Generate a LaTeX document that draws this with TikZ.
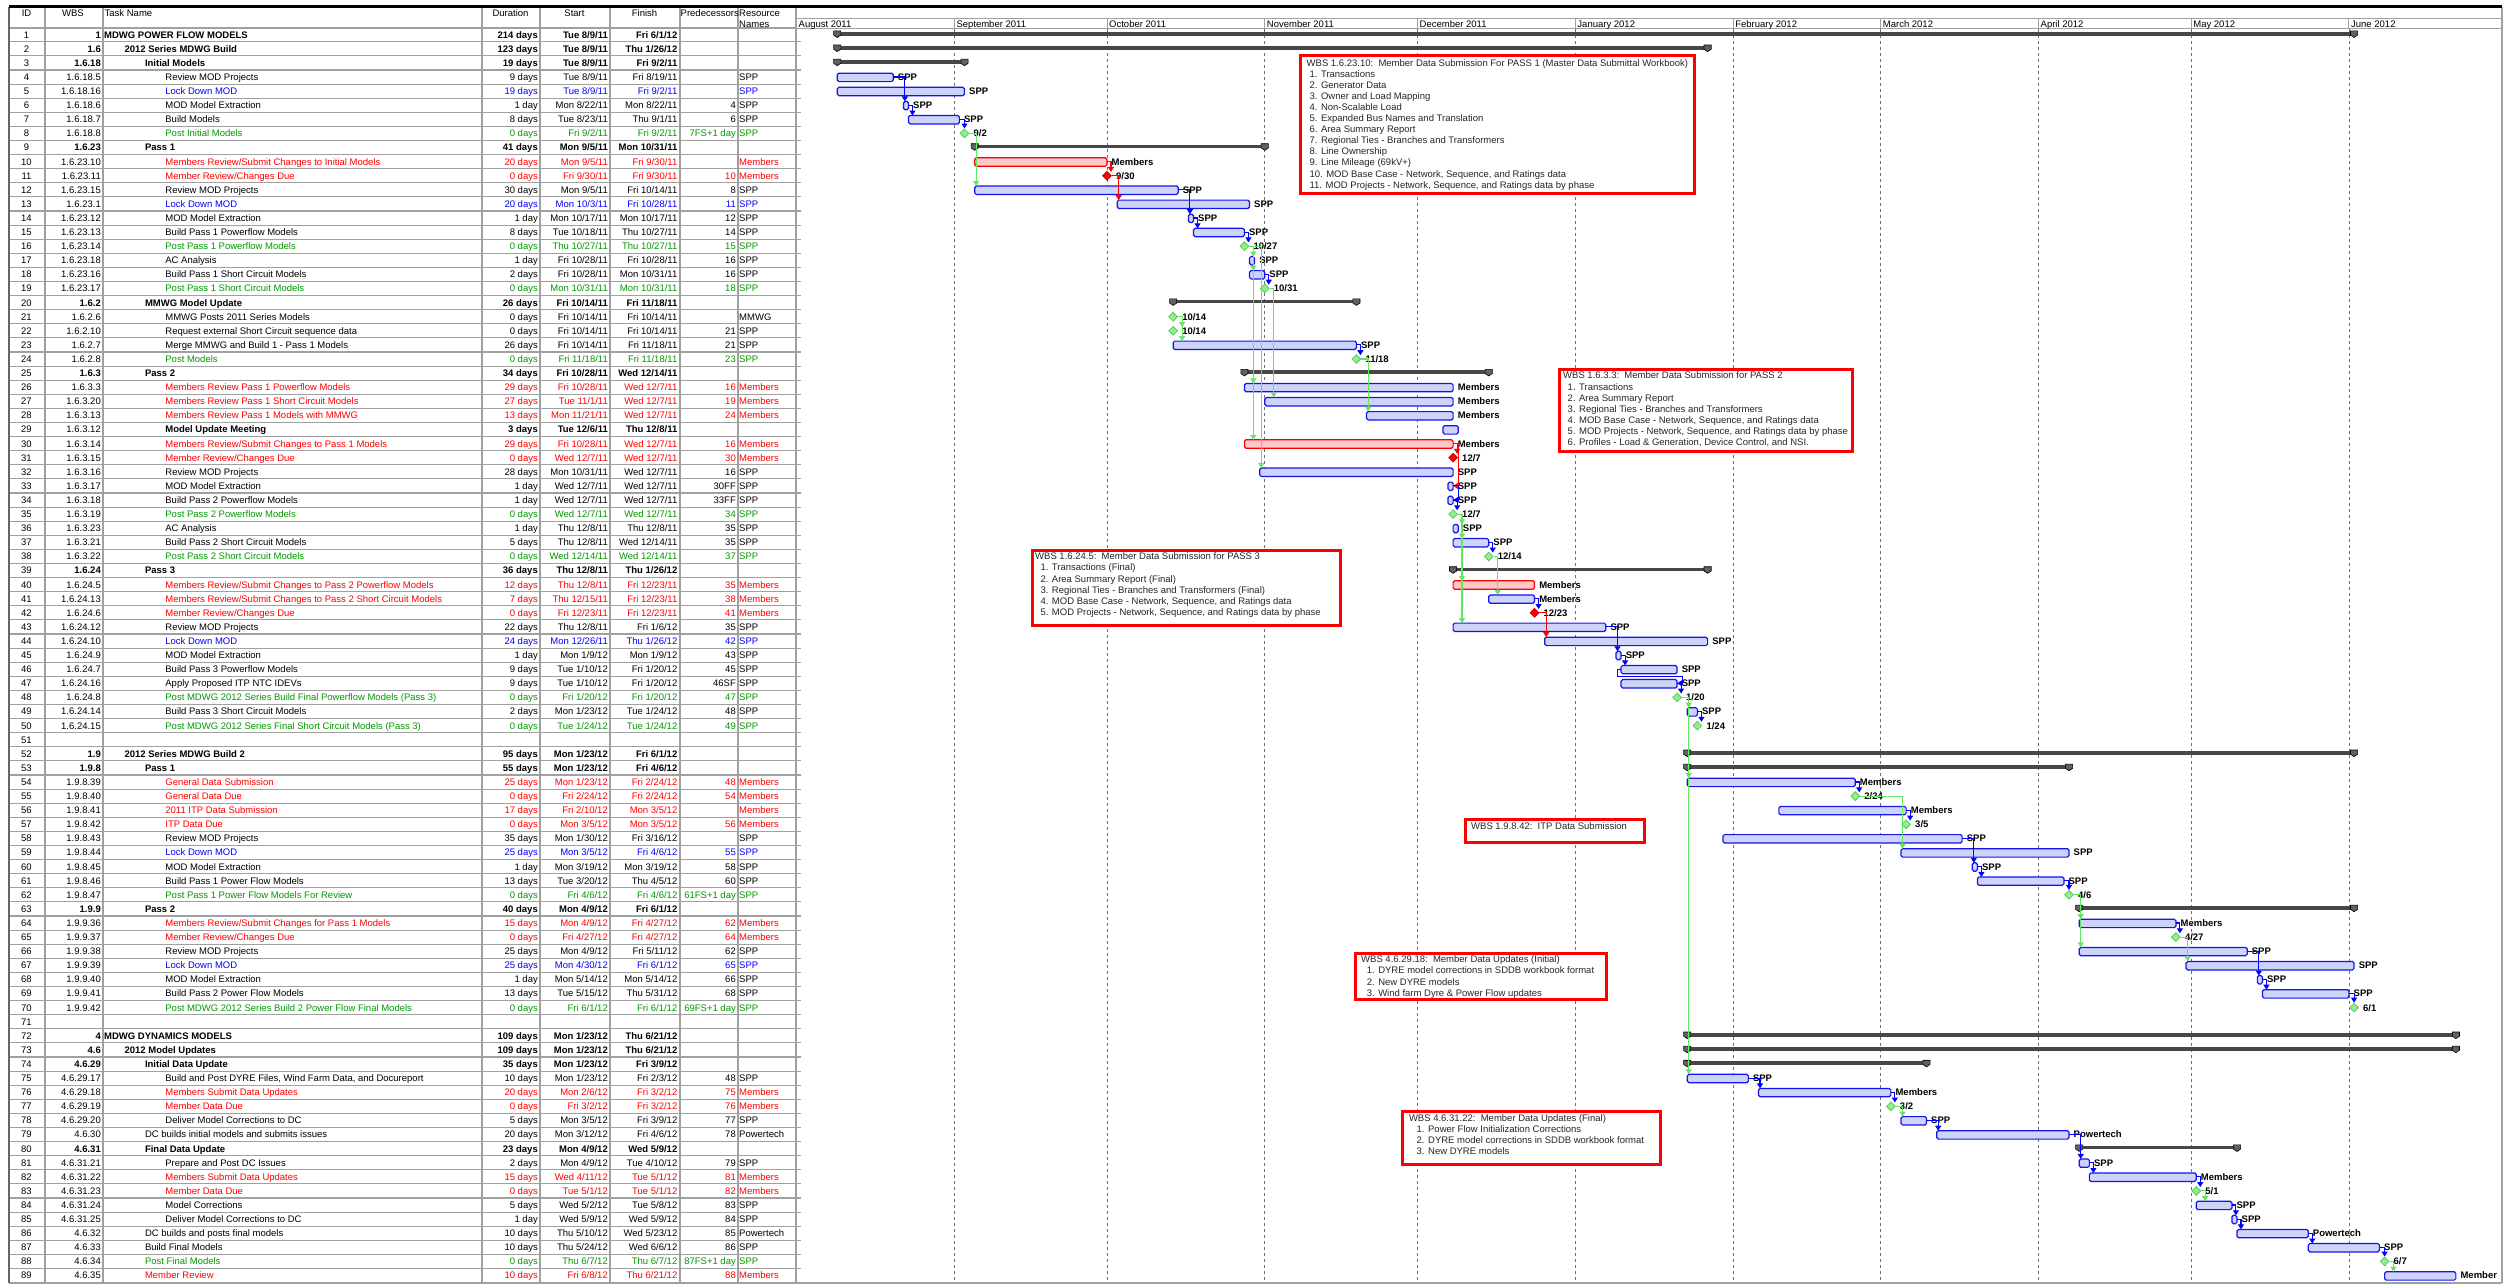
\documentclass[tikz,border=0pt]{standalone}
\usepackage{fontspec}
\setmainfont{Liberation Sans}
\usetikzlibrary{shapes.geometric,arrows.meta,calc}

\definecolor{tred}{RGB}{255,0,0}
\definecolor{tblue}{RGB}{0,0,255}
\definecolor{tgreen}{RGB}{0,153,0}
\definecolor{barblue}{RGB}{20,20,235}
\definecolor{barfill}{RGB}{206,211,250}
\definecolor{redfill}{RGB}{252,200,200}
\definecolor{msgreen}{RGB}{144,238,144}
\definecolor{msgreenline}{RGB}{90,205,90}
\definecolor{lkgreen}{RGB}{100,230,100}
\definecolor{gridgray}{RGB}{110,110,110}
\definecolor{linegray}{RGB}{160,160,160}

\newcommand\gfont{\fontsize{9.5pt}{11pt}\selectfont}
\newcommand\gfontb{\fontsize{9.5pt}{11pt}\selectfont\bfseries}

\tikzset{
  cell/.style={font=\gfont, inner sep=0pt},
  rb/.style={}, rc/.style={}, rw/.style={},
  bold row/.style={rb/.style={font=\gfontb}, rw/.style={font=\gfontb}},
  bold task row/.style={rb/.style={font=\gfontb}},
  red row/.style={rc/.style={text=tred}},
  blue row/.style={rc/.style={text=tblue}},
  green row/.style={rc/.style={text=tgreen}},
  rowline/.style={line width=1.1pt, linegray},
  colline/.style={line width=1.1pt, linegray},
  monthgrid/.style={gridgray, line width=0.9pt, dash pattern=on 3pt off 3pt},
  blab/.style={font=\gfontb, inner sep=0pt, anchor=base west},
  bluebar/.style={draw=barblue, fill=barfill, line width=1.2pt, rounded corners=1.6pt},
  redbar/.style={draw=tred, fill=redfill, line width=1.2pt, rounded corners=1.6pt},
  greenms/.style={diamond, draw=msgreenline, fill=msgreen, line width=0.8pt,
    minimum width=9pt, minimum height=9pt, inner sep=0pt},
  redms/.style={greenms, draw=red!80!black, fill=tred},
  sumbarfill/.style={fill=black!72},
  sumcap/.style={fill=black!62, draw=black, line width=0.6pt},
  lk/.style={line width=1.1pt, -{Triangle[width=6pt,length=5pt]}},
  callout/.style={draw=tred, line width=3pt, fill=white},
  notetxt/.style={font=\gfont, inner sep=0pt, anchor=base west, text=black!85},
}

% one table row: [style]{wbs}{level}{name}{duration}{start}{finish}{pred}{resource}
\newcounter{rowid}
\newcommand\trow[9][]{%
  \stepcounter{rowid}%
  \edef\rid{\arabic{rowid}}%
  \pgfmathsetmacro\tx{104+20.4*(#3-1)}%
  \begin{scope}[#1]
    \node[cell, anchor=base, yshift=-3.4pt] (id\rid) at (26.5,\rid) {\rid};
    \node[cell, rw, anchor=base east, yshift=-3.4pt] (wbs\rid) at (101,\rid) {#2};
    \node[cell, rb, rc, anchor=base west, yshift=-3.4pt] (task\rid) at (\tx,\rid) {#4};
    \node[cell, rb, rc, anchor=base east, yshift=-3.4pt] (dur\rid) at (538,\rid) {#5};
    \node[cell, rb, rc, anchor=base east, yshift=-3.4pt] (start\rid) at (608,\rid) {#6};
    \node[cell, rb, rc, anchor=base east, yshift=-3.4pt] (fin\rid) at (677.5,\rid) {#7};
    \node[cell, rc, anchor=base east, yshift=-3.4pt] (pred\rid) at (736,\rid) {#8};
    \node[cell, rc, anchor=base west, yshift=-3.4pt] (res\rid) at (739,\rid) {#9};
  \end{scope}}

% summary bar: {row}{start}{end}
\newcommand\sumbar[3]{%
  \coordinate (ss#1) at (#2,#1);
  \coordinate (se#1) at (#3,#1);
  \fill[sumbarfill] ([yshift=2.7pt]ss#1) rectangle ([yshift=-0.8pt]se#1);
  \foreach \c in {ss#1,se#1}
    \filldraw[sumcap] ([xshift=-3.6pt,yshift=3.8pt]\c) -- ++(7.2pt,0) -- ++(0,-4.2pt)
      -- ++(-3.6pt,-2.4pt) -- ++(-3.6pt,2.4pt) -- cycle;}

% task bar: [style]{row}{start}{end}{label}
\newcommand\taskbar[5][bluebar]{%
  \coordinate (s#2) at (#3,#2);
  \coordinate (e#2) at (#4,#2);
  \draw[#1] ([yshift=3.8pt]s#2) rectangle ([yshift=-4.6pt]e#2);
  \node[blab, xshift=4.5pt, yshift=-3.4pt] (lab#2) at (e#2) {#5};}

% milestone: [style]{row}{day}{label}
\newcommand\mstone[4][greenms]{%
  \node[#1] (m#2) at (#3,#2) {};
  \node[blab, xshift=4pt, yshift=-3.4pt] (lab#2) at (m#2.east) {#4};}

% links: drop at the successor start / just right of the predecessor / onto a milestone
\newcommand\lka[3]{\draw[lk,#1] (#2) -| ($(#3)+(1.5pt,3.8pt)$);}
\newcommand\lkb[3]{\draw[lk,#1] (#2) -| ($(#2 |- #3)+(4pt,3.8pt)$);}
\newcommand\lkm[3]{\draw[lk,#1] (#2) -| (#3.north);}

\begin{document}
\begin{tikzpicture}[x=1pt,y=-1pt]
\useasboundingbox[fill=white] (0,0) rectangle (2519,1286);

% ---------------- table grid ----------------
\begin{scope}[y=-14.1pt, yshift=-20.6pt]
  \foreach \i in {1,...,88} \draw[rowline] (9,\i+0.5) -- (801,\i+0.5);
\end{scope}
\foreach \x in {45,103,482,540,610,680,738,796} \draw[colline] (\x,6.5) -- (\x,1283);
\draw[line width=2pt, linegray] (9,28.3) -- (796,28.3);

% header
\node[cell, anchor=base] (hid) at (26.5,16.1) {ID};
\node[cell, anchor=base] (hwbs) at (73,16.1) {WBS};
\node[cell, anchor=base west] (htask) at (104.5,16.1) {Task Name};
\node[cell, anchor=base] (hdur) at (510.5,16.1) {Duration};
\node[cell, anchor=base] (hstart) at (574.5,16.1) {Start};
\node[cell, anchor=base] (hfin) at (644.5,16.1) {Finish};
\node[cell, anchor=base west] (hpred) at (680.5,16.1) {Predecessors};
\node[cell, anchor=base west] (hres1) at (739,16.1) {Resource};
\node[cell, anchor=base west] (hres2) at (739,27.2) {Names};

% ---------------- table rows ----------------
\begin{scope}[y=-14.1pt, yshift=-20.6pt]
\trow[bold row]{1}{1}{MDWG POWER FLOW MODELS}{214 days}{Tue 8/9/11}{Fri 6/1/12}{}{}
\trow[bold row]{1.6}{2}{2012 Series MDWG Build}{123 days}{Tue 8/9/11}{Thu 1/26/12}{}{}
\trow[bold row]{1.6.18}{3}{Initial Models}{19 days}{Tue 8/9/11}{Fri 9/2/11}{}{}
\trow{1.6.18.5}{4}{Review MOD Projects}{9 days}{Tue 8/9/11}{Fri 8/19/11}{}{SPP}
\trow[blue row]{1.6.18.16}{4}{Lock Down MOD}{19 days}{Tue 8/9/11}{Fri 9/2/11}{}{SPP}
\trow{1.6.18.6}{4}{MOD Model Extraction}{1 day}{Mon 8/22/11}{Mon 8/22/11}{4}{SPP}
\trow{1.6.18.7}{4}{Build Models}{8 days}{Tue 8/23/11}{Thu 9/1/11}{6}{SPP}
\trow[green row]{1.6.18.8}{4}{Post Initial Models}{0 days}{Fri 9/2/11}{Fri 9/2/11}{7FS+1 day}{SPP}
\trow[bold row]{1.6.23}{3}{Pass 1}{41 days}{Mon 9/5/11}{Mon 10/31/11}{}{}
\trow[red row]{1.6.23.10}{4}{Members Review/Submit Changes to Initial Models}{20 days}{Mon 9/5/11}{Fri 9/30/11}{}{Members}
\trow[red row]{1.6.23.11}{4}{Member Review/Changes Due}{0 days}{Fri 9/30/11}{Fri 9/30/11}{10}{Members}
\trow{1.6.23.15}{4}{Review MOD Projects}{30 days}{Mon 9/5/11}{Fri 10/14/11}{8}{SPP}
\trow[blue row]{1.6.23.1}{4}{Lock Down MOD}{20 days}{Mon 10/3/11}{Fri 10/28/11}{11}{SPP}
\trow{1.6.23.12}{4}{MOD Model Extraction}{1 day}{Mon 10/17/11}{Mon 10/17/11}{12}{SPP}
\trow{1.6.23.13}{4}{Build Pass 1 Powerflow Models}{8 days}{Tue 10/18/11}{Thu 10/27/11}{14}{SPP}
\trow[green row]{1.6.23.14}{4}{Post Pass 1 Powerflow Models}{0 days}{Thu 10/27/11}{Thu 10/27/11}{15}{SPP}
\trow{1.6.23.18}{4}{AC Analysis}{1 day}{Fri 10/28/11}{Fri 10/28/11}{16}{SPP}
\trow{1.6.23.16}{4}{Build Pass 1 Short Circuit Models}{2 days}{Fri 10/28/11}{Mon 10/31/11}{16}{SPP}
\trow[green row]{1.6.23.17}{4}{Post Pass 1 Short Circuit Models}{0 days}{Mon 10/31/11}{Mon 10/31/11}{18}{SPP}
\trow[bold row]{1.6.2}{3}{MMWG Model Update}{26 days}{Fri 10/14/11}{Fri 11/18/11}{}{}
\trow{1.6.2.6}{4}{MMWG Posts 2011 Series Models}{0 days}{Fri 10/14/11}{Fri 10/14/11}{}{MMWG}
\trow{1.6.2.10}{4}{Request external Short Circuit sequence data}{0 days}{Fri 10/14/11}{Fri 10/14/11}{21}{SPP}
\trow{1.6.2.7}{4}{Merge MMWG and Build 1 - Pass 1 Models}{26 days}{Fri 10/14/11}{Fri 11/18/11}{21}{SPP}
\trow[green row]{1.6.2.8}{4}{Post Models}{0 days}{Fri 11/18/11}{Fri 11/18/11}{23}{SPP}
\trow[bold row]{1.6.3}{3}{Pass 2}{34 days}{Fri 10/28/11}{Wed 12/14/11}{}{}
\trow[red row]{1.6.3.3}{4}{Members Review Pass 1 Powerflow Models}{29 days}{Fri 10/28/11}{Wed 12/7/11}{16}{Members}
\trow[red row]{1.6.3.20}{4}{Members Review Pass 1 Short Circuit Models}{27 days}{Tue 11/1/11}{Wed 12/7/11}{19}{Members}
\trow[red row]{1.6.3.13}{4}{Members Review Pass 1 Models with MMWG}{13 days}{Mon 11/21/11}{Wed 12/7/11}{24}{Members}
\trow[bold task row]{1.6.3.12}{4}{Model Update Meeting}{3 days}{Tue 12/6/11}{Thu 12/8/11}{}{}
\trow[red row]{1.6.3.14}{4}{Members Review/Submit Changes to Pass 1 Models}{29 days}{Fri 10/28/11}{Wed 12/7/11}{16}{Members}
\trow[red row]{1.6.3.15}{4}{Member Review/Changes Due}{0 days}{Wed 12/7/11}{Wed 12/7/11}{30}{Members}
\trow{1.6.3.16}{4}{Review MOD Projects}{28 days}{Mon 10/31/11}{Wed 12/7/11}{16}{SPP}
\trow{1.6.3.17}{4}{MOD Model Extraction}{1 day}{Wed 12/7/11}{Wed 12/7/11}{30FF}{SPP}
\trow{1.6.3.18}{4}{Build Pass 2 Powerflow Models}{1 day}{Wed 12/7/11}{Wed 12/7/11}{33FF}{SPP}
\trow[green row]{1.6.3.19}{4}{Post Pass 2 Powerflow Models}{0 days}{Wed 12/7/11}{Wed 12/7/11}{34}{SPP}
\trow{1.6.3.23}{4}{AC Analysis}{1 day}{Thu 12/8/11}{Thu 12/8/11}{35}{SPP}
\trow{1.6.3.21}{4}{Build Pass 2 Short Circuit Models}{5 days}{Thu 12/8/11}{Wed 12/14/11}{35}{SPP}
\trow[green row]{1.6.3.22}{4}{Post Pass 2 Short Circuit Models}{0 days}{Wed 12/14/11}{Wed 12/14/11}{37}{SPP}
\trow[bold row]{1.6.24}{3}{Pass 3}{36 days}{Thu 12/8/11}{Thu 1/26/12}{}{}
\trow[red row]{1.6.24.5}{4}{Members Review/Submit Changes to Pass 2 Powerflow Models}{12 days}{Thu 12/8/11}{Fri 12/23/11}{35}{Members}
\trow[red row]{1.6.24.13}{4}{Members Review/Submit Changes to Pass 2 Short Circuit Models}{7 days}{Thu 12/15/11}{Fri 12/23/11}{38}{Members}
\trow[red row]{1.6.24.6}{4}{Member Review/Changes Due}{0 days}{Fri 12/23/11}{Fri 12/23/11}{41}{Members}
\trow{1.6.24.12}{4}{Review MOD Projects}{22 days}{Thu 12/8/11}{Fri 1/6/12}{35}{SPP}
\trow[blue row]{1.6.24.10}{4}{Lock Down MOD}{24 days}{Mon 12/26/11}{Thu 1/26/12}{42}{SPP}
\trow{1.6.24.9}{4}{MOD Model Extraction}{1 day}{Mon 1/9/12}{Mon 1/9/12}{43}{SPP}
\trow{1.6.24.7}{4}{Build Pass 3 Powerflow Models}{9 days}{Tue 1/10/12}{Fri 1/20/12}{45}{SPP}
\trow{1.6.24.16}{4}{Apply Proposed ITP NTC IDEVs}{9 days}{Tue 1/10/12}{Fri 1/20/12}{46SF}{SPP}
\trow[green row]{1.6.24.8}{4}{Post MDWG 2012 Series Build Final Powerflow Models (Pass 3)}{0 days}{Fri 1/20/12}{Fri 1/20/12}{47}{SPP}
\trow{1.6.24.14}{4}{Build Pass 3 Short Circuit Models}{2 days}{Mon 1/23/12}{Tue 1/24/12}{48}{SPP}
\trow[green row]{1.6.24.15}{4}{Post MDWG 2012 Series Final Short Circuit Models (Pass 3)}{0 days}{Tue 1/24/12}{Tue 1/24/12}{49}{SPP}
\trow{}{1}{}{}{}{}{}{}
\trow[bold row]{1.9}{2}{2012 Series MDWG Build 2}{95 days}{Mon 1/23/12}{Fri 6/1/12}{}{}
\trow[bold row]{1.9.8}{3}{Pass 1}{55 days}{Mon 1/23/12}{Fri 4/6/12}{}{}
\trow[red row]{1.9.8.39}{4}{General Data Submission}{25 days}{Mon 1/23/12}{Fri 2/24/12}{48}{Members}
\trow[red row]{1.9.8.40}{4}{General Data Due}{0 days}{Fri 2/24/12}{Fri 2/24/12}{54}{Members}
\trow[red row]{1.9.8.41}{4}{2011 ITP Data Submission}{17 days}{Fri 2/10/12}{Mon 3/5/12}{}{Members}
\trow[red row]{1.9.8.42}{4}{ITP Data Due}{0 days}{Mon 3/5/12}{Mon 3/5/12}{56}{Members}
\trow{1.9.8.43}{4}{Review MOD Projects}{35 days}{Mon 1/30/12}{Fri 3/16/12}{}{SPP}
\trow[blue row]{1.9.8.44}{4}{Lock Down MOD}{25 days}{Mon 3/5/12}{Fri 4/6/12}{55}{SPP}
\trow{1.9.8.45}{4}{MOD Model Extraction}{1 day}{Mon 3/19/12}{Mon 3/19/12}{58}{SPP}
\trow{1.9.8.46}{4}{Build Pass 1 Power Flow Models}{13 days}{Tue 3/20/12}{Thu 4/5/12}{60}{SPP}
\trow[green row]{1.9.8.47}{4}{Post Pass 1 Power Flow Models For Review}{0 days}{Fri 4/6/12}{Fri 4/6/12}{61FS+1 day}{SPP}
\trow[bold row]{1.9.9}{3}{Pass 2}{40 days}{Mon 4/9/12}{Fri 6/1/12}{}{}
\trow[red row]{1.9.9.36}{4}{Members Review/Submit Changes for Pass 1 Models}{15 days}{Mon 4/9/12}{Fri 4/27/12}{62}{Members}
\trow[red row]{1.9.9.37}{4}{Member Review/Changes Due}{0 days}{Fri 4/27/12}{Fri 4/27/12}{64}{Members}
\trow{1.9.9.38}{4}{Review MOD Projects}{25 days}{Mon 4/9/12}{Fri 5/11/12}{62}{SPP}
\trow[blue row]{1.9.9.39}{4}{Lock Down MOD}{25 days}{Mon 4/30/12}{Fri 6/1/12}{65}{SPP}
\trow{1.9.9.40}{4}{MOD Model Extraction}{1 day}{Mon 5/14/12}{Mon 5/14/12}{66}{SPP}
\trow{1.9.9.41}{4}{Build Pass 2 Power Flow Models}{13 days}{Tue 5/15/12}{Thu 5/31/12}{68}{SPP}
\trow[green row]{1.9.9.42}{4}{Post MDWG 2012 Series Build 2 Power Flow Final Models}{0 days}{Fri 6/1/12}{Fri 6/1/12}{69FS+1 day}{SPP}
\trow{}{1}{}{}{}{}{}{}
\trow[bold row]{4}{1}{MDWG DYNAMICS MODELS}{109 days}{Mon 1/23/12}{Thu 6/21/12}{}{}
\trow[bold row]{4.6}{2}{2012 Model Updates}{109 days}{Mon 1/23/12}{Thu 6/21/12}{}{}
\trow[bold row]{4.6.29}{3}{Initial Data Update}{35 days}{Mon 1/23/12}{Fri 3/9/12}{}{}
\trow{4.6.29.17}{4}{Build and Post DYRE Files, Wind Farm Data, and Docureport}{10 days}{Mon 1/23/12}{Fri 2/3/12}{48}{SPP}
\trow[red row]{4.6.29.18}{4}{Members Submit Data Updates}{20 days}{Mon 2/6/12}{Fri 3/2/12}{75}{Members}
\trow[red row]{4.6.29.19}{4}{Member Data Due}{0 days}{Fri 3/2/12}{Fri 3/2/12}{76}{Members}
\trow{4.6.29.20}{4}{Deliver Model Corrections to DC}{5 days}{Mon 3/5/12}{Fri 3/9/12}{77}{SPP}
\trow{4.6.30}{3}{DC builds initial models and submits issues}{20 days}{Mon 3/12/12}{Fri 4/6/12}{78}{Powertech}
\trow[bold row]{4.6.31}{3}{Final Data Update}{23 days}{Mon 4/9/12}{Wed 5/9/12}{}{}
\trow{4.6.31.21}{4}{Prepare and Post DC Issues}{2 days}{Mon 4/9/12}{Tue 4/10/12}{79}{SPP}
\trow[red row]{4.6.31.22}{4}{Members Submit Data Updates}{15 days}{Wed 4/11/12}{Tue 5/1/12}{81}{Members}
\trow[red row]{4.6.31.23}{4}{Member Data Due}{0 days}{Tue 5/1/12}{Tue 5/1/12}{82}{Members}
\trow{4.6.31.24}{4}{Model Corrections}{5 days}{Wed 5/2/12}{Tue 5/8/12}{83}{SPP}
\trow{4.6.31.25}{4}{Deliver Model Corrections to DC}{1 day}{Wed 5/9/12}{Wed 5/9/12}{84}{SPP}
\trow{4.6.32}{3}{DC builds and posts final models}{10 days}{Thu 5/10/12}{Wed 5/23/12}{85}{Powertech}
\trow{4.6.33}{3}{Build Final Models}{10 days}{Thu 5/24/12}{Wed 6/6/12}{86}{SPP}
\trow[green row]{4.6.34}{3}{Post Final Models}{0 days}{Thu 6/7/12}{Thu 6/7/12}{87FS+1 day}{SPP}
\trow[red row]{4.6.35}{3}{Member Review}{10 days}{Fri 6/8/12}{Thu 6/21/12}{88}{Members}
\end{scope}

% ---------------- chart frame ----------------
\draw[line width=1pt, linegray] (797,18.4) -- (2502,18.4);
\draw[line width=1.6pt, linegray] (797,28.6) -- (2502,28.6);

\begin{scope}[x=5.09pt, y=-14.1pt, xshift=796.5pt, yshift=-20.6pt]
  % month scale
  \foreach \d/\m [count=\k] in {0/August 2011, 31/September 2011, 61/October 2011,
      92/November 2011, 122/December 2011, 153/January 2012, 184/February 2012,
      213/March 2012, 244/April 2012, 274/May 2012, 305/June 2012} {
    \draw[linegray, line width=1pt] (\d,-0.156) -- (\d,0.567);
    \node[cell, anchor=base west, xshift=2pt] (month\k) at (\d,0.454) {\m};
  }
  \foreach \d in {31,61,92,122,153,184,213,244,274,305}
    \draw[monthgrid] (\d,0.6) -- (\d,89.5);
\end{scope}

% ---------------- notes ----------------
\draw[callout] (1300,55.5) rectangle (1694,193.5);
\node[notetxt] (n1t) at (1306.5,66) {WBS 1.6.23.10:~~Member Data Submission For PASS 1 (Master Data Submittal Workbook)};
\foreach \t [count=\k] in {{1. Transactions},{2. Generator Data},{3. Owner and Load Mapping},
    {4. Non-Scalable Load},{5. Expanded Bus Names and Translation},{6. Area Summary Report},
    {7. Regional Ties - Branches and Transformers},{8. Line Ownership},{9. Line Mileage (69kV+)},
    {10. MOD Base Case - Network, Sequence, and Ratings data},
    {11. MOD Projects - Network, Sequence, and Ratings data by phase}}
  \node[notetxt] (n1-\k) at (1309.4,{66+11.1*\k}) {\t};

\draw[callout] (1559,369) rectangle (1852,451);
\node[notetxt] (n2t) at (1563,378.9) {WBS 1.6.3.3:~~Member Data Submission for PASS 2};
\foreach \t [count=\k] in {{1. Transactions},{2. Area Summary Report},
    {3. Regional Ties - Branches and Transformers},
    {4. MOD Base Case - Network, Sequence, and Ratings data},
    {5. MOD Projects - Network, Sequence, and Ratings data by phase},
    {6. Profiles - Load \& Generation, Device Control, and NSI.}}
  \node[notetxt] (n2-\k) at (1567.5,{378.9+11.1*\k}) {\t};

\draw[callout] (1032,550.4) rectangle (1340,625);
\node[notetxt] (n3t) at (1035,559.6) {WBS 1.6.24.5:~~Member Data Submission for PASS 3};
\foreach \t [count=\k] in {{1. Transactions (Final)},{2. Area Summary Report (Final)},
    {3. Regional Ties - Branches and Transformers (Final)},
    {4. MOD Base Case - Network, Sequence, and Ratings data},
    {5. MOD Projects - Network, Sequence, and Ratings data by phase}}
  \node[notetxt] (n3-\k) at (1040.3,{559.6+11.2*\k}) {\t};

\draw[callout] (1465,819.4) rectangle (1644,842.5);
\node[notetxt] (n4t) at (1471,829.8) {WBS 1.9.8.42:~~ITP Data Submission};

\draw[callout] (1355.5,953) rectangle (1606,999);
\node[notetxt] (n5t) at (1361,962.7) {WBS 4.6.29.18:~~Member Data Updates (Initial)};
\foreach \t [count=\k] in {{1. DYRE model corrections in SDDB workbook format},
    {2. New DYRE models},{3. Wind farm Dyre \& Power Flow updates}}
  \node[notetxt] (n5-\k) at (1366.6,{962.7+11.2*\k}) {\t};

\draw[callout] (1402.6,1111) rectangle (1660.7,1164);
\node[notetxt] (n6t) at (1408.8,1121.6) {WBS 4.6.31.22:~~Member Data Updates (Final)};
\foreach \t [count=\k] in {{1. Power Flow Initialization Corrections},
    {2. DYRE model corrections in SDDB workbook format},{3. New DYRE models}}
  \node[notetxt] (n6-\k) at (1416.5,{1121.6+11*\k}) {\t};

% ---------------- bars, milestones, links ----------------
\begin{scope}[x=5.09pt, y=-14.1pt, xshift=796.5pt, yshift=-20.6pt]
  % summary bars
  \sumbar{1}{8}{306}
  \sumbar{2}{8}{179}
  \sumbar{3}{8}{33}
  \sumbar{9}{35}{92}
  \sumbar{20}{74}{110}
  \sumbar{25}{88}{136}
  \sumbar{39}{129}{179}
  \sumbar{52}{175}{306}
  \sumbar{53}{175}{250}
  \sumbar{63}{252}{306}
  \sumbar{72}{175}{326}
  \sumbar{73}{175}{326}
  \sumbar{74}{175}{222}
  \sumbar{80}{252}{283}

  % task bars
  \taskbar{4}{8}{19}{SPP}
  \taskbar{5}{8}{33}{SPP}
  \taskbar{6}{21}{22}{SPP}
  \taskbar{7}{22}{32}{SPP}
  \taskbar[redbar]{10}{35}{61}{Members}
  \taskbar{12}{35}{75}{SPP}
  \taskbar{13}{63}{89}{SPP}
  \taskbar{14}{77}{78}{SPP}
  \taskbar{15}{78}{88}{SPP}
  \taskbar{17}{89}{90}{SPP}
  \taskbar{18}{89}{92}{SPP}
  \taskbar{23}{74}{110}{SPP}
  \taskbar{26}{88}{129}{Members}
  \taskbar{27}{92}{129}{Members}
  \taskbar{28}{112}{129}{Members}
  \taskbar{29}{127}{130}{}
  \taskbar[redbar]{30}{88}{129}{Members}
  \taskbar{32}{91}{129}{SPP}
  \taskbar{33}{128}{129}{SPP}
  \taskbar{34}{128}{129}{SPP}
  \taskbar{36}{129}{130}{SPP}
  \taskbar{37}{129}{136}{SPP}
  \taskbar[redbar]{40}{129}{145}{Members}
  \taskbar{41}{136}{145}{Members}
  \taskbar{43}{129}{159}{SPP}
  \taskbar{44}{147}{179}{SPP}
  \taskbar{45}{161}{162}{SPP}
  \taskbar{46}{162}{173}{SPP}
  \taskbar{47}{162}{173}{SPP}
  \taskbar{49}{175}{177}{SPP}
  \taskbar{54}{175}{208}{Members}
  \taskbar{56}{193}{218}{Members}
  \taskbar{58}{182}{229}{SPP}
  \taskbar{59}{217}{250}{SPP}
  \taskbar{60}{231}{232}{SPP}
  \taskbar{61}{232}{249}{SPP}
  \taskbar{64}{252}{271}{Members}
  \taskbar{66}{252}{285}{SPP}
  \taskbar{67}{273}{306}{SPP}
  \taskbar{68}{287}{288}{SPP}
  \taskbar{69}{288}{305}{SPP}
  \taskbar{75}{175}{187}{SPP}
  \taskbar{76}{189}{215}{Members}
  \taskbar{78}{217}{222}{SPP}
  \taskbar{79}{224}{250}{Powertech}
  \taskbar{81}{252}{254}{SPP}
  \taskbar{82}{254}{275}{Members}
  \taskbar{84}{275}{282}{SPP}
  \taskbar{85}{282}{283}{SPP}
  \taskbar{86}{283}{297}{Powertech}
  \taskbar{87}{297}{311}{SPP}
  \taskbar{89}{312}{326}{Member}

  % milestones
  \mstone{8}{33}{9/2}
  \mstone[redms]{11}{61}{9/30}
  \mstone{16}{88}{10/27}
  \mstone{19}{92}{10/31}
  \mstone{21}{74}{10/14}
  \mstone{22}{74}{10/14}
  \mstone{24}{110}{11/18}
  \mstone[redms]{31}{129}{12/7}
  \mstone{35}{129}{12/7}
  \mstone{38}{136}{12/14}
  \mstone[redms]{42}{145}{12/23}
  \mstone{48}{173}{1/20}
  \mstone{50}{177}{1/24}
  \mstone{55}{208}{2/24}
  \mstone{57}{218}{3/5}
  \mstone{62}{250}{4/6}
  \mstone{65}{271}{4/27}
  \mstone{70}{306}{6/1}
  \mstone{77}{215}{3/2}
  \mstone{83}{275}{5/1}
  \mstone{88}{312}{6/7}

  % links from task bars
  \lka{tblue}{e4}{s6}
  \lkb{tblue}{e6}{s7}
  \lkm{tblue}{e7}{m8}
  \lka{tblue}{e12}{s14}
  \lkb{tblue}{e14}{s15}
  \lkb{tblue}{e15}{m16}
  \lkb{tblue}{e18}{m19}
  \lkb{tblue}{e23}{m24}
  \lkb{tblue}{e34}{m35}
  \lkb{tblue}{e37}{m38}
  \lkb{tblue}{e41}{m42}
  \lka{tblue}{e43}{s45}
  \lkb{tblue}{e45}{s46}
  \lkb{tblue}{e47}{m48}
  \lkb{tblue}{e49}{m50}
  \lkb{tblue}{e54}{m55}
  \lkb{tblue}{e56}{m57}
  \lka{tblue}{e58}{s60}
  \lkb{tblue}{e60}{s61}
  \lkm{tblue}{e61}{m62}
  \lkb{tblue}{e64}{m65}
  \lka{tblue}{e66}{s68}
  \lkb{tblue}{e68}{s69}
  \lkm{tblue}{e69}{m70}
  \lka{tblue}{e75}{s76}
  \lkb{tblue}{e76}{m77}
  \lka{tblue}{e78}{s79}
  \lka{tblue}{e79}{s81}
  \lkb{tblue}{e81}{s82}
  \lkb{tblue}{e82}{m83}
  \lkb{tblue}{e84}{s85}
  \lkb{tblue}{e85}{s86}
  \lkb{tblue}{e86}{s87}
  \lkm{tblue}{e87}{m88}
  % finish-to-finish and start-to-finish links
  \draw[lk,tred] (e30) -- ++(5pt,0) |- (e33);
  \draw[lk,tblue] (e33) -- ++(5pt,0) |- (e34);
  \draw[lk,tblue] (s46) -- ++(-4pt,0) -- ++(0,-7pt) -| ($(e47)+(5pt,0)$) -- (e47);
  % links from red items
  \lkb{tred}{e10}{m11}
  \lka{tred}{m11.east}{s13}
  \lkb{tred}{e30}{m31}
  \lka{tred}{m42.east}{s44}
  % links from milestones
  \lka{lkgreen}{m8.east}{s12}
  \lkb{lkgreen}{m16.east}{s17}
  \lkb{lkgreen}{m16.east}{s18}
  \lkb{lkgreen}{m16.east}{s26}
  \lkb{lkgreen}{m16.east}{s30}
  \lka{lkgreen}{m16.east}{s32}
  \lkb{lkgreen}{m19.east}{s27}
  \lkb{lkgreen}{m21.east}{m22}
  \lkb{lkgreen}{m21.east}{s23}
  \lka{lkgreen}{m24.east}{s28}
  \lkb{lkgreen}{m35.east}{s36}
  \lkb{lkgreen}{m35.east}{s37}
  \lkb{lkgreen}{m35.east}{s40}
  \lkb{lkgreen}{m35.east}{s43}
  \lkb{lkgreen}{m38.east}{s41}
  \lka{lkgreen}{m48.east}{s49}
  \lka{lkgreen}{m48.east}{s54}
  \lka{lkgreen}{m48.east}{s75}
  \lka{lkgreen}{m55.east}{s59}
  \lka{lkgreen}{m62.east}{s64}
  \lka{lkgreen}{m62.east}{s66}
  \lka{lkgreen}{m65.east}{s67}
  \lka{lkgreen}{m77.east}{s78}
  \lkb{lkgreen}{m83.east}{s84}
  \lkb{lkgreen}{m88.east}{s89}
\end{scope}

% ---------------- outer frame ----------------
\draw[line width=1.5pt, linegray] (2502,6.5) -- (2502,1283);
\draw[line width=1.6pt, linegray] (9,1283) -- (2502,1283);
\draw[line width=2.5pt, black!60] (9,6.5) -- (9,1283);
\draw[line width=2.5pt, black] (9,6.5) -- (2502,6.5);
\end{tikzpicture}
\end{document}
